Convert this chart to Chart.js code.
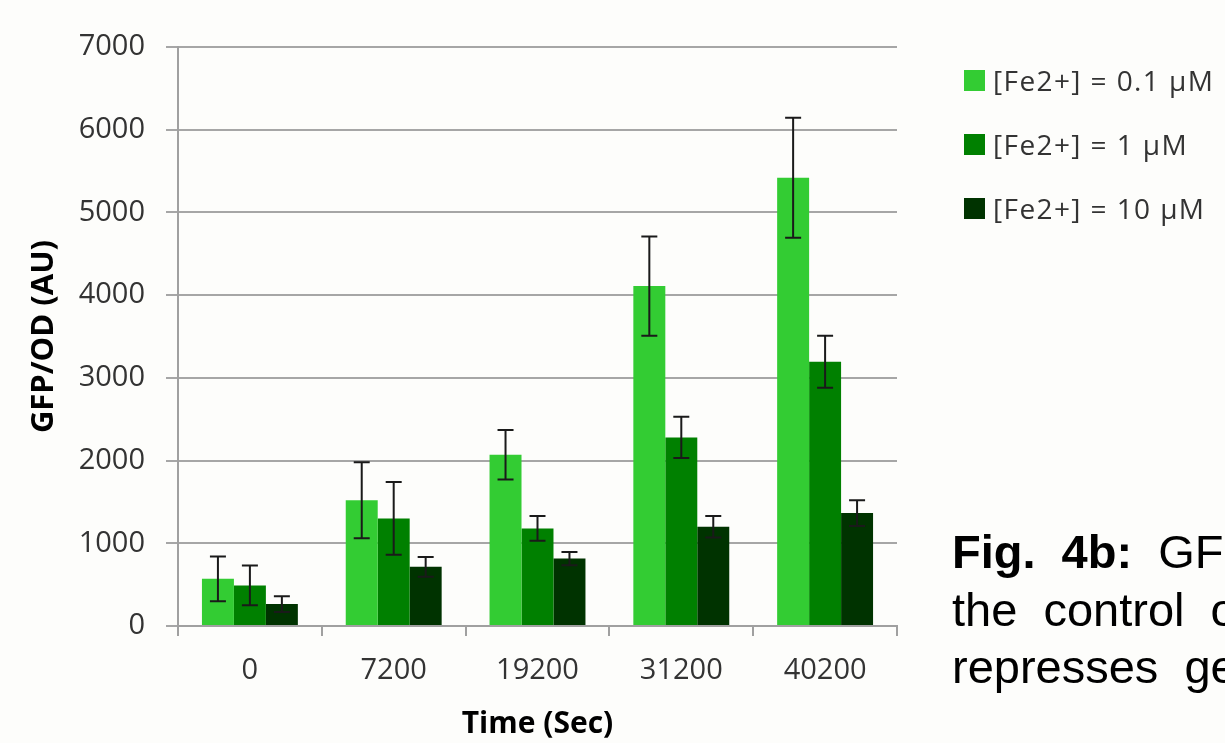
<!DOCTYPE html>
<html>
<head>
<meta charset="utf-8">
<script src="https://cdn.jsdelivr.net/npm/chart.js@4"></script>
<style>
  html, body { margin: 0; padding: 0; background: #fdfdfb; }
  #wrap { position: relative; width: 1225px; height: 743px; overflow: hidden; background: #fdfdfb; }
  #chart { position: absolute; left: 0; top: 0; }
  .legend-item { position: absolute; left: 964px; height: 30px; font: 28px 'Open Sans', sans-serif; letter-spacing: 1.4px; color: #333; white-space: nowrap; display: flex; align-items: center; }
  .legend-item span.box { display: inline-block; width: 21px; height: 21px; margin-right: 8px; }
  #caption { position: absolute; left: 952px; top: 523px; font: 47px 'Liberation Sans', Arial, sans-serif; line-height: 57.5px; color: #000; white-space: nowrap; word-spacing: 13px; }
</style>
</head>
<body>
<div id="wrap">
  <canvas id="chart" width="1225" height="743"></canvas>
  <div id="legend"></div>
  <div id="caption">
    <div><b>Fig. 4b:</b> GFP expression under</div>
    <div>the control of</div>
    <div>represses gene</div>
  </div>
</div>
<script>
const categories = ['0', '7200', '19200', '31200', '40200'];
const seriesLabels = ['[Fe2+] = 0.1 µM', '[Fe2+] = 1 µM', '[Fe2+] = 10 µM'];
const fe01 = [570, 1520, 2070, 4110, 5420];
const fe1 = [490, 1300, 1180, 2280, 3195];
const fe10 = [265, 715, 815, 1200, 1365];
const fe01Err = [270, 460, 300, 600, 725];
const fe1Err = [240, 440, 150, 250, 315];
const fe10Err = [95, 120, 80, 130, 155];
const colors = ['#33cc33', '#008000', '#003300'];

const values = [fe01, fe1, fe10];
const errs = [fe01Err, fe1Err, fe10Err];

// error bars drawn on top of the bars, through the y scale
const errorBars = {
    id: 'errorBars',
    afterDatasetsDraw(chart) {
        const ctx = chart.ctx;
        const y = chart.scales.y;
        ctx.save();
        ctx.strokeStyle = '#1a1a1a';
        ctx.lineWidth = 2;
        chart.data.datasets.forEach((ds, i) => {
            chart.getDatasetMeta(i).data.forEach((bar, j) => {
                const top = y.getPixelForValue(ds.data[j] + ds.errors[j]);
                const bottom = y.getPixelForValue(ds.data[j] - ds.errors[j]);
                ctx.beginPath();
                ctx.moveTo(bar.x, top);
                ctx.lineTo(bar.x, bottom);
                ctx.moveTo(bar.x - 8, top);
                ctx.lineTo(bar.x + 8, top);
                ctx.moveTo(bar.x - 8, bottom);
                ctx.lineTo(bar.x + 8, bottom);
                ctx.stroke();
            });
        });
        ctx.restore();
    }
};

Chart.defaults.font.family = "'Open Sans', sans-serif";
Chart.defaults.color = '#333';

new Chart(document.getElementById('chart').getContext('2d'), {
    type: 'bar',
    data: {
        labels: categories,
        datasets: values.map((v, i) => ({
            label: seriesLabels[i],
            data: v,
            errors: errs[i],
            backgroundColor: colors[i],
            borderWidth: 0,
            barPercentage: 1,
            categoryPercentage: 0.667
        }))
    },
    options: {
        responsive: false,
        animation: false,
        layout: { padding: { top: 47, right: 328, bottom: 0, left: 0 } },
        plugins: {
            legend: { display: false },
            tooltip: { enabled: false }
        },
        scales: {
            x: {
                grid: {
                    offset: true,
                    drawOnChartArea: false,
                    drawTicks: true,
                    tickLength: 10,
                    color: '#a0a0a0',
                    lineWidth: 2
                },
                border: { color: '#a0a0a0', width: 2 },
                ticks: { font: { size: 29 }, padding: 17 },
                title: {
                    display: true,
                    text: 'Time (Sec)',
                    color: '#000',
                    font: { size: 30, weight: 'bold' },
                    padding: { top: 0, bottom: 1 }
                },
                afterFit: (axis) => { axis.height = 117; }
            },
            y: {
                min: 0,
                max: 7000,
                ticks: {
                    stepSize: 1000,
                    font: { size: 29 },
                    padding: 21,
                    callback: (value) => String(value)
                },
                grid: { color: '#a6a6a6', lineWidth: 2, tickLength: 12 },
                border: { color: '#a0a0a0', width: 2 },
                title: {
                    display: true,
                    text: 'GFP/OD (AU)',
                    color: '#000',
                    font: { size: 31, weight: 'bold' },
                    padding: { top: 26, bottom: 0 }
                },
                afterFit: (axis) => { axis.width = 178; }
            }
        }
    },
    plugins: [errorBars]
});

// legend built from the same series arrays
const legend = document.getElementById('legend');
seriesLabels.forEach((label, i) => {
    const item = document.createElement('div');
    item.className = 'legend-item';
    item.style.top = (65 + i * 64) + 'px';
    const box = document.createElement('span');
    box.className = 'box';
    box.style.background = colors[i];
    item.appendChild(box);
    item.appendChild(document.createTextNode(label));
    legend.appendChild(item);
});
</script>
</body>
</html>
